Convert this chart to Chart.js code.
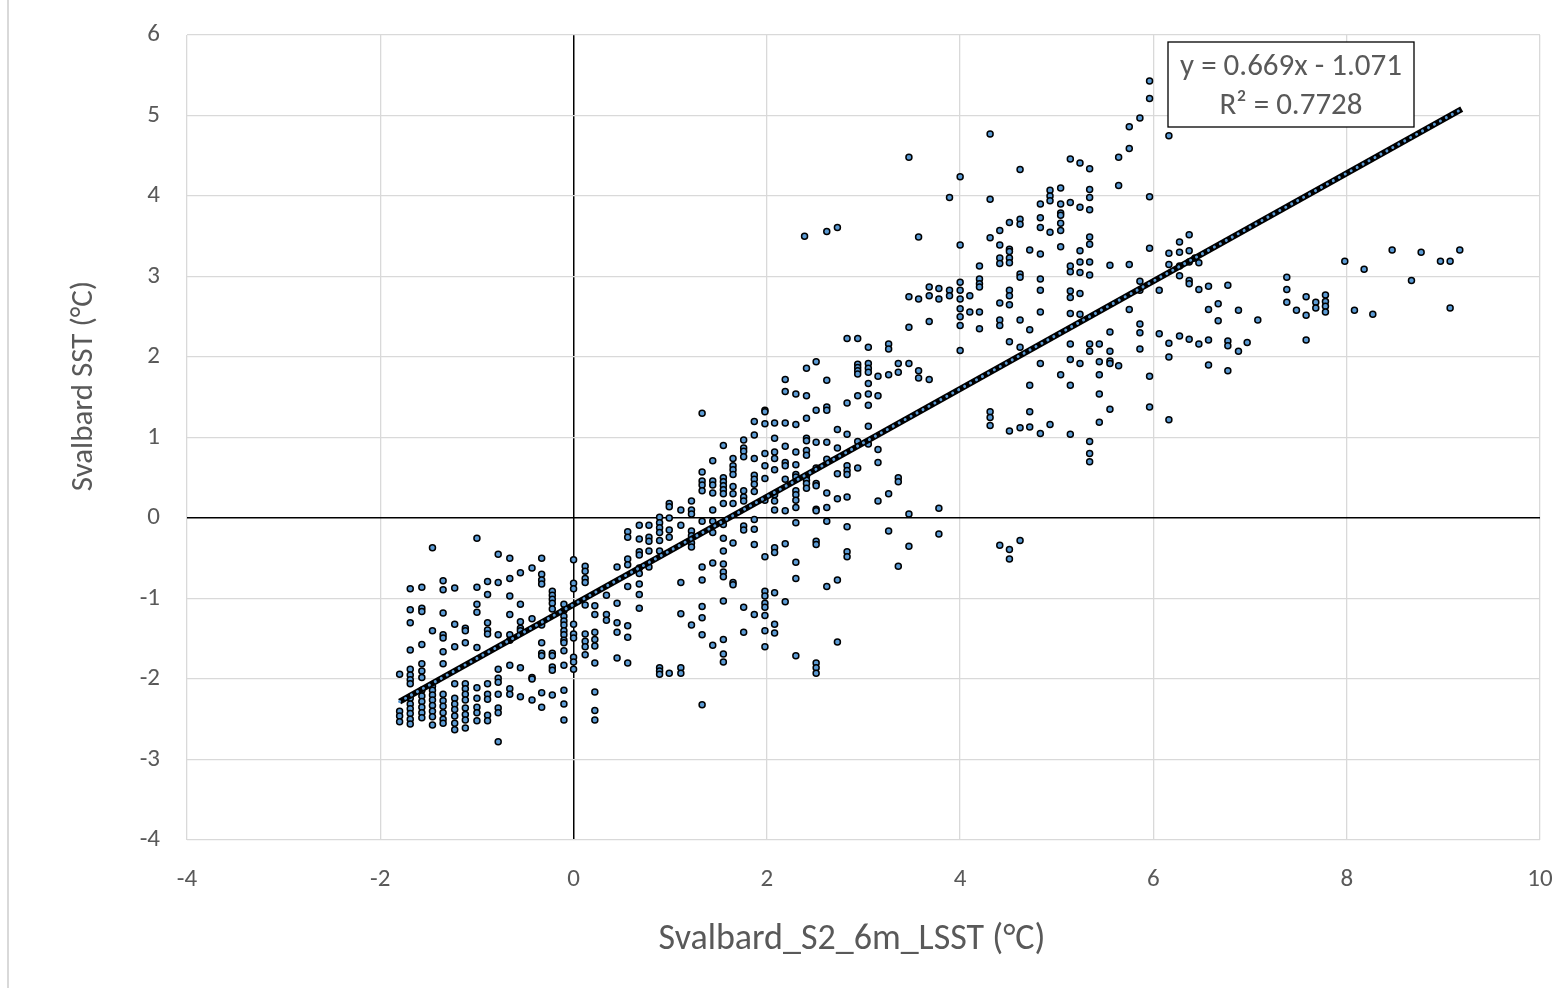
<!DOCTYPE html>
<html lang="en">
<head>
    <meta charset="UTF-8">
    <title>Svalbard SST vs S2 6m LSST</title>
    <script src="https://cdn.jsdelivr.net/npm/chart.js"></script>
    <style>
        body {
            margin: 0;
            padding: 0;
            background-color: #fff;
        }
        #chart {
            display: block;
        }
    </style>
</head>
<body>

<canvas id="chart" width="1560" height="988"></canvas>

<script>
    // LSST values (x) where points line up in columns, and the SST values (y) in each column
    const lsstCols = [
        -1.80, -1.69, -1.57, -1.46, -1.35, -1.23, -1.12, -1.00, -0.89, -0.78,
        -0.66, -0.55, -0.43, -0.33, -0.22, -0.10, 0.00, 0.12, 0.22, 0.34,
        0.45, 0.56, 0.68, 0.78, 0.89, 0.99, 1.11, 1.22, 1.33, 1.44,
        1.55, 1.65, 1.76, 1.87, 1.98, 2.08, 2.19, 2.30, 2.39, 2.41,
        2.51, 2.62, 2.73, 2.83, 2.94, 3.05, 3.15, 3.26, 3.36, 3.47,
        3.57, 3.68, 3.78, 3.89, 4.00, 4.10, 4.20, 4.31, 4.41, 4.51,
        4.62, 4.72, 4.83, 4.93, 5.04, 5.14, 5.24, 5.34, 5.44, 5.55,
        5.64, 5.75, 5.86, 5.96, 6.06, 6.16, 6.27, 6.37, 6.43, 6.47,
        6.57, 6.67, 6.77, 6.88, 6.97, 7.08, 7.38, 7.48, 7.58, 7.68,
        7.78, 7.98, 8.08, 8.18, 8.27, 8.47, 8.67, 8.77, 8.97, 9.07,
        9.17
    ];

    const sstCols = [
        [-1.94, -2.40, -2.46, -2.53],
        [-0.88, -1.14, -1.30, -1.64, -1.88, -1.95, -2.01, -2.06, -2.24, -2.31, -2.37, -2.43, -2.50, -2.56],
        [-0.86, -1.12, -1.16, -1.57, -1.81, -1.90, -1.98, -2.14, -2.21, -2.28, -2.35, -2.42, -2.48],
        [-0.37, -1.40, -2.09, -2.14, -2.20, -2.26, -2.33, -2.40, -2.47, -2.57],
        [-0.78, -0.89, -1.18, -1.45, -1.49, -1.66, -1.81, -2.19, -2.27, -2.34, -2.42, -2.50, -2.55],
        [-0.87, -1.32, -1.60, -2.06, -2.24, -2.31, -2.38, -2.46, -2.55, -2.63],
        [-1.37, -1.40, -1.55, -2.06, -2.12, -2.19, -2.26, -2.36, -2.44, -2.51, -2.61],
        [-0.25, -0.86, -1.07, -1.17, -1.61, -2.11, -2.24, -2.35, -2.42, -2.52],
        [-0.79, -0.95, -1.30, -1.39, -1.44, -2.06, -2.19, -2.25, -2.45, -2.52],
        [-0.45, -0.80, -1.45, -1.88, -1.99, -2.04, -2.19, -2.36, -2.42, -2.78],
        [-0.50, -0.75, -0.97, -1.20, -1.45, -1.52, -1.83, -2.12, -2.19],
        [-0.68, -1.07, -1.29, -1.37, -1.40, -1.86, -2.22],
        [-0.62, -1.25, -1.98, -2.00, -2.26],
        [-0.50, -0.70, -0.77, -0.82, -1.33, -1.55, -1.68, -1.71, -2.17, -2.35],
        [-0.91, -0.96, -1.01, -1.06, -1.13, -1.68, -1.71, -1.85, -1.89, -2.20],
        [-1.07, -1.15, -1.22, -1.28, -1.33, -1.40, -1.45, -1.52, -1.55, -1.65, -1.83, -2.14, -2.31, -2.51],
        [-0.52, -0.81, -0.88, -1.32, -1.44, -1.49, -1.73, -1.79, -1.88],
        [-0.60, -0.66, -0.75, -0.80, -1.08, -1.44, -1.53, -1.60, -1.70],
        [-1.09, -1.20, -1.42, -1.51, -1.59, -1.80, -2.16, -2.39, -2.51],
        [-0.96, -1.20, -1.27],
        [-0.61, -1.06, -1.30, -1.42, -1.74],
        [-0.17, -0.24, -0.51, -0.58, -0.85, -1.34, -1.48, -1.80],
        [-0.09, -0.26, -0.42, -0.46, -0.62, -0.69, -0.82, -0.95, -1.12],
        [-0.09, -0.24, -0.29, -0.41, -0.61],
        [0.01, -0.06, -0.12, -0.18, -0.28, -0.41, -1.86, -1.90, -1.94],
        [0.18, 0.14, 0.00, -0.15, -0.24, -1.93],
        [0.10, -0.09, -0.80, -1.19, -1.86, -1.93],
        [0.21, 0.10, 0.05, -0.16, -0.22, -0.31, -0.36, -1.33],
        [1.30, 0.57, 0.46, 0.41, 0.34, -0.04, -0.61, -0.77, -1.10, -1.24, -1.45, -2.32],
        [0.71, 0.46, 0.41, 0.31, 0.10, -0.04, -0.18, -0.56, -1.58],
        [0.90, 0.50, 0.45, 0.40, 0.35, 0.30, 0.18, -0.08, -0.25, -0.41, -0.57, -0.67, -0.73, -1.03, -1.51, -1.69, -1.79],
        [0.74, 0.65, 0.60, 0.54, 0.39, 0.30, 0.18, -0.31, -0.80, -0.83],
        [0.97, 0.87, 0.83, 0.76, 0.34, 0.26, 0.21, -0.10, -0.15, -1.11, -1.42],
        [1.20, 1.03, 0.74, 0.53, 0.48, 0.42, 0.33, -0.02, -0.14, -0.33, -1.20],
        [1.34, 1.32, 1.17, 0.80, 0.65, 0.49, 0.22, -0.48, -0.91, -0.97, -1.06, -1.11, -1.21, -1.40, -1.60],
        [1.18, 0.99, 0.82, 0.74, 0.60, 0.29, 0.21, 0.10, -0.37, -0.43, -0.93, -1.32, -1.43],
        [1.72, 1.57, 1.18, 0.89, 0.69, 0.65, 0.48, 0.09, -0.32, -1.04],
        [1.54, 1.16, 0.82, 0.66, 0.54, 0.51, 0.34, 0.29, 0.22, 0.13, -0.06, -0.55, -0.75, -1.71],
        [3.50],
        [1.86, 1.52, 1.24, 0.99, 0.96, 0.84, 0.78, 0.52, 0.47, 0.43, 0.37],
        [1.94, 1.34, 0.94, 0.62, 0.43, 0.40, 0.11, 0.09, -0.29, -0.33, -1.80, -1.86, -1.93],
        [3.56, 1.71, 1.38, 1.34, 0.94, 0.73, 0.31, 0.13, -0.04, -0.85],
        [3.61, 1.10, 0.87, 0.55, 0.24, -0.77, -1.54],
        [2.23, 1.43, 1.04, 0.65, 0.59, 0.54, 0.26, -0.11, -0.42, -0.48],
        [2.23, 1.91, 1.87, 1.83, 1.79, 1.52, 0.95, 0.62],
        [2.12, 1.92, 1.86, 1.81, 1.67, 1.54, 1.40, 1.14, 0.92],
        [1.76, 1.52, 0.85, 0.69, 0.21],
        [2.16, 2.10, 1.78, 0.30, -0.16],
        [1.92, 1.81, 0.50, 0.45, -0.60],
        [4.48, 2.75, 2.37, 1.92, 0.05, -0.35],
        [3.49, 2.72, 1.83, 1.74],
        [2.87, 2.76, 2.44, 1.72],
        [2.85, 2.72, 0.12, -0.20],
        [3.98, 2.83, 2.76],
        [4.24, 3.39, 2.93, 2.83, 2.72, 2.60, 2.50, 2.39, 2.08],
        [2.76, 2.56],
        [3.13, 2.97, 2.91, 2.87, 2.56, 2.35],
        [4.77, 3.96, 3.48, 1.32, 1.25, 1.15],
        [3.57, 3.39, 3.23, 3.16, 2.67, 2.46, 2.39, -0.34],
        [3.67, 3.34, 3.31, 3.23, 3.17, 2.83, 2.76, 2.65, 2.19, 1.08, -0.39, -0.51],
        [4.33, 3.71, 3.65, 3.03, 2.99, 2.46, 2.12, 1.12, -0.28],
        [3.33, 2.34, 1.65, 1.32, 1.13],
        [3.90, 3.73, 3.61, 3.28, 2.97, 2.83, 2.56, 1.92, 1.05],
        [4.07, 4.00, 3.94, 3.55, 1.16],
        [4.10, 3.90, 3.79, 3.76, 3.66, 3.57, 3.37, 1.78],
        [4.46, 3.92, 3.13, 3.06, 2.82, 2.74, 2.54, 2.16, 1.97, 1.65, 1.04],
        [4.41, 3.86, 3.32, 3.18, 3.05, 2.79, 2.53, 1.92],
        [4.34, 4.08, 3.98, 3.83, 3.49, 3.40, 3.18, 3.02, 2.16, 2.07, 0.95, 0.80, 0.70],
        [2.16, 1.94, 1.78, 1.54, 1.19],
        [3.14, 2.31, 2.07, 1.95, 1.92, 1.35],
        [4.48, 4.13, 1.89],
        [4.86, 4.59, 3.15, 2.59],
        [4.97, 2.94, 2.83, 2.41, 2.30, 2.10],
        [5.43, 5.21, 3.99, 3.35, 1.76, 1.38],
        [2.83, 2.29],
        [4.75, 3.29, 3.15, 2.17, 2.00, 1.22],
        [3.43, 3.30, 3.13, 3.01, 2.26],
        [3.52, 3.32, 3.18, 2.95, 2.91, 2.22],
        [3.23],
        [3.17, 2.84, 2.16],
        [2.88, 2.59, 2.21, 1.90],
        [2.66, 2.45],
        [2.89, 2.20, 2.14, 1.83],
        [2.58, 2.07],
        [2.18],
        [2.46],
        [2.99, 2.84, 2.68],
        [2.58],
        [2.75, 2.52, 2.21],
        [2.68, 2.61],
        [2.77, 2.69, 2.63, 2.56],
        [3.19],
        [2.58],
        [3.09],
        [2.53],
        [3.33],
        [2.95],
        [3.30],
        [3.19],
        [3.19, 2.61],
        [3.33]
    ];

    // linear trendline end points, as drawn
    const trendX = [-1.80, 9.19];
    const trendY = [-2.28, 5.08];
    const trendLabel = ['y = 0.669x - 1.071', 'R² = 0.7728'];

    const xTitle = 'Svalbard_S2_6m_LSST (°C)';
    const yTitle = 'Svalbard SST (°C)';

    const FONT = "Carlito, Calibri, Lato, sans-serif";
    const TEXT = '#595959';
    const GRID = '#d9d9d9';

    Chart.defaults.font.family = FONT;
    Chart.defaults.font.size = 25;
    Chart.defaults.color = TEXT;

    const points = [];
    lsstCols.forEach((x, i) => {
        sstCols[i].forEach(y => points.push({ x: x, y: y }));
    });
    const trendPoints = trendX.map((x, i) => ({ x: x, y: trendY[i] }));

    // axis titles, trendline label box and the chart frame edge
    const decorations = {
        id: 'decorations',
        beforeDraw(chart) {
            const ctx = chart.ctx;
            ctx.save();
            ctx.fillStyle = '#fff';
            ctx.fillRect(0, 0, chart.width, chart.height);
            ctx.strokeStyle = GRID;
            ctx.lineWidth = 2;
            ctx.beginPath();
            ctx.moveTo(8, 0);
            ctx.lineTo(8, chart.height);
            ctx.stroke();
            ctx.restore();
        },
        afterDraw(chart) {
            const ctx = chart.ctx;
            ctx.save();
            ctx.fillStyle = TEXT;
            ctx.textAlign = 'center';
            ctx.textBaseline = 'middle';
            ctx.font = '36px ' + FONT;
            ctx.fillText(xTitle, 852, 940);

            ctx.font = '31px ' + FONT;
            ctx.translate(84, 386);
            ctx.rotate(-Math.PI / 2);
            ctx.fillText(yTitle, 0, 0);
            ctx.restore();

            ctx.save();
            ctx.fillStyle = '#fff';
            ctx.fillRect(1168, 42, 246, 85);
            ctx.strokeStyle = '#000';
            ctx.lineWidth = 1.3;
            ctx.strokeRect(1168, 42, 246, 85);
            ctx.fillStyle = TEXT;
            ctx.font = '31px ' + FONT;
            ctx.textAlign = 'center';
            ctx.textBaseline = 'middle';
            ctx.fillText(trendLabel[0], 1291, 67);
            ctx.fillText(trendLabel[1], 1291, 106);
            ctx.restore();
        }
    };

    function gridColor(c) {
        return c.tick && c.tick.value === 0 ? '#000' : GRID;
    }
    function gridWidth(c) {
        return c.tick && c.tick.value === 0 ? 1.5 : 1.3;
    }

    new Chart(document.getElementById('chart').getContext('2d'), {
        type: 'scatter',
        data: {
            datasets: [
                {
                    data: trendPoints,
                    showLine: true,
                    borderColor: '#5B9BD5',
                    borderWidth: 3,
                    borderDash: [0.01, 6.8],
                    borderCapStyle: 'round',
                    pointRadius: 0,
                    order: 0
                },
                {
                    data: trendPoints,
                    showLine: true,
                    borderColor: '#000',
                    borderWidth: 6,
                    pointRadius: 0,
                    order: 1
                },
                {
                    data: points,
                    pointRadius: 3,
                    pointBackgroundColor: '#5B9BD5',
                    pointBorderColor: '#000',
                    pointBorderWidth: 1.5,
                    order: 2
                }
            ]
        },
        options: {
            responsive: false,
            animation: false,
            layout: {
                padding: { left: 0, right: 20, top: 35, bottom: 0 }
            },
            plugins: {
                legend: { display: false },
                tooltip: { enabled: false }
            },
            scales: {
                x: {
                    type: 'linear',
                    min: -4,
                    max: 10,
                    afterFit(scale) {
                        scale.height = 148;
                        scale.paddingLeft = 0;
                        scale.paddingRight = 0;
                    },
                    border: { display: false },
                    grid: { color: gridColor, lineWidth: gridWidth, drawTicks: false },
                    ticks: {
                        stepSize: 2,
                        padding: 25,
                        color: TEXT,
                        font: { family: FONT, size: 25 }
                    }
                },
                y: {
                    type: 'linear',
                    min: -4,
                    max: 6,
                    afterFit(scale) {
                        scale.width = 187;
                        scale.paddingTop = 0;
                        scale.paddingBottom = 0;
                    },
                    border: { display: false },
                    grid: { color: gridColor, lineWidth: gridWidth, drawTicks: false },
                    ticks: {
                        stepSize: 1,
                        padding: 27,
                        color: TEXT,
                        font: { family: FONT, size: 25 }
                    }
                }
            }
        },
        plugins: [decorations]
    });
</script>

</body>
</html>
